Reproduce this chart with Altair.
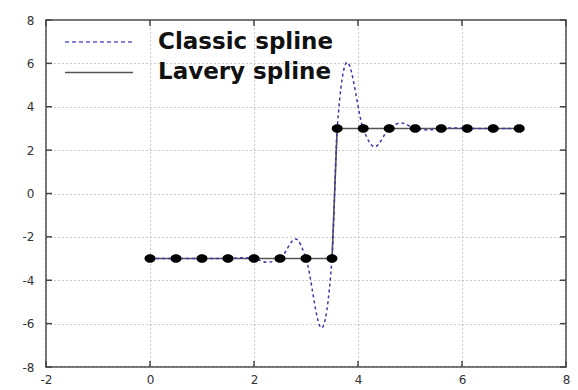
import altair as alt
import pandas as pd

# ---- data ----
knot_x = [0.0, 0.5, 1.0, 1.5, 2.0, 2.5, 3.0, 3.5, 3.6, 4.1, 4.6, 5.1, 5.6, 6.1, 6.6, 7.1]
knot_y = [-3, -3, -3, -3, -3, -3, -3, -3, 3, 3, 3, 3, 3, 3, 3, 3]

classic_x = [0.0, 0.5, 1.0, 1.5, 1.75, 2.0, 2.25, 2.5, 2.8, 3.0, 3.3, 3.5, 3.6, 3.79,
             4.1, 4.32, 4.6, 4.83, 5.1, 5.35, 5.6, 5.85, 6.1, 6.6, 7.1]
classic_y = [-3.0, -3.0, -3.0, -3.0, -2.96, -3.0, -3.17, -3.0, -2.1, -3.0, -6.2, -3.0, 3.0, 6.05,
             3.0, 2.15, 3.0, 3.25, 3.0, 2.93, 3.0, 3.02, 3.0, 3.0, 3.0]

x_ticks = [-2, 0, 2, 4, 6, 8]
y_ticks = [-8, -6, -4, -2, 0, 2, 4, 6, 8]
series_names = ["Classic spline", "Lavery spline"]

W, H = 520, 347
FRAME = "#444444"
BLUE = "#3a3aaa"

knots = pd.DataFrame({"x": knot_x, "y": knot_y})
classic = pd.DataFrame({"x": classic_x, "y": classic_y})
xt = pd.DataFrame({"x": x_ticks})
yt = pd.DataFrame({"y": y_ticks})

label_expr = "datum.value < 0 ? '-' + abs(datum.value) : '' + datum.value"
xs = alt.Scale(domain=[-2, 8], nice=False, zero=False)
ys = alt.Scale(domain=[-8, 8], nice=False, zero=False)
common_axis = dict(grid=True, gridDash=[1, 3], gridColor="#999999", gridWidth=1,
                   domain=False, ticks=False, tickSize=0, labelFont="DejaVu Sans",
                   labelFontSize=12, labelColor="#333333", title=None,
                   labelFlush=False, labelExpr=label_expr)
xaxis = alt.Axis(values=x_ticks, labelPadding=7, **common_axis)
yaxis = alt.Axis(values=y_ticks, labelPadding=12, **common_axis)
X = alt.X("x:Q", scale=xs, axis=xaxis)
Y = alt.Y("y:Q", scale=ys, axis=yaxis)

lavery = alt.Chart(knots).mark_line(color="#555555", strokeWidth=1.6).encode(x=X, y=Y)
classic_line = alt.Chart(classic).mark_line(
    color=BLUE, strokeWidth=1.5, strokeDash=[3, 3], interpolate="monotone"
).encode(x=X, y=Y)
ellipse = "M-1.3,0A1.3,1,0,1,0,1.3,0A1.3,1,0,1,0,-1.3,0Z"
markers = alt.Chart(knots).mark_point(
    shape=ellipse, filled=True, size=72, color="black", opacity=1
).encode(x=X, y=Y)

tick_style = dict(color=FRAME, strokeWidth=1.5)
t_bottom = alt.Chart(xt).mark_rule(**tick_style).encode(x=X, y=alt.value(H), y2=alt.value(H - 6))
t_top = alt.Chart(xt).mark_rule(**tick_style).encode(x=X, y=alt.value(0), y2=alt.value(6))
t_left = alt.Chart(yt).mark_rule(**tick_style).encode(y=Y, x=alt.value(0), x2=alt.value(6))
t_right = alt.Chart(yt).mark_rule(**tick_style).encode(y=Y, x=alt.value(W), x2=alt.value(W - 6))

leg_dash = alt.Chart(pd.DataFrame({"name": [series_names[0]]})).mark_rule(
    color="#5a5acc", strokeWidth=1.5, strokeDash=[4, 3]
).encode(x=alt.value(19), x2=alt.value(87), y=alt.value(22))
leg_solid = alt.Chart(pd.DataFrame({"name": [series_names[1]]})).mark_rule(
    color="#555555", strokeWidth=1.6
).encode(x=alt.value(19), x2=alt.value(87), y=alt.value(52.5))
txt_style = dict(font="DejaVu Sans", fontSize=23, fontWeight="bold", color="#111111",
                 align="left", baseline="middle")
leg_t1 = alt.Chart(pd.DataFrame({"name": [series_names[0]]})).mark_text(**txt_style).encode(
    x=alt.value(112), y=alt.value(21.5), text="name:N")
leg_t2 = alt.Chart(pd.DataFrame({"name": [series_names[1]]})).mark_text(**txt_style).encode(
    x=alt.value(112), y=alt.value(51.5), text="name:N")

chart = alt.layer(
    lavery, classic_line, markers, t_bottom, t_top, t_left, t_right,
    leg_dash, leg_solid, leg_t1, leg_t2
).properties(
    width=W, height=H,
    autosize=alt.AutoSizeParams(type="none"),
    padding={"left": 38, "top": 12, "right": 4, "bottom": 22},
    background="white",
).configure_view(stroke=FRAME, strokeWidth=1.5)

chart.save("out.html", embed_options={"renderer": "svg", "actions": False})
